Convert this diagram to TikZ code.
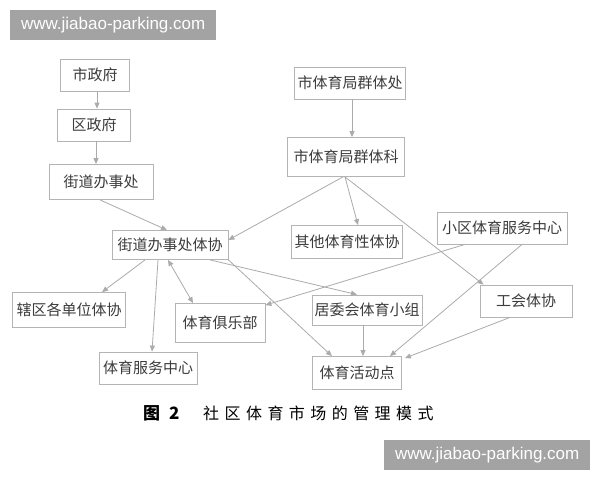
\documentclass[tikz,border=0pt]{standalone}
\usepackage{fontspec}
\newfontfamily\cjk{Noto Sans CJK SC}
\newfontfamily\wmfont{Liberation Sans}
\usetikzlibrary{arrows.meta}
\definecolor{boxline}{HTML}{B4B4B4}
\definecolor{conn}{HTML}{ABABAB}
\definecolor{txt}{HTML}{3C3C3C}
\definecolor{wm}{HTML}{A3A3A3}
\tikzset{
  orgbox/.style={draw=boxline, line width=0.8pt, fill=white, text=txt, inner sep=0pt,
    font=\cjk\fontsize{15}{17}\selectfont, minimum width=#1},
  conline/.style={draw=conn, line width=0.8pt, -{Triangle[length=6pt,width=5pt]}},
  biline/.style={draw=conn, line width=0.8pt, {Triangle[length=6pt,width=5pt]}-{Triangle[length=6pt,width=5pt]}},
  wmbox/.style={fill=wm, text=white, font=\wmfont\fontsize{17}{19}\selectfont,
    minimum width=206pt, minimum height=30pt, inner sep=0pt},
}
\begin{document}
\begin{tikzpicture}[x=1pt,y=-1pt]
\useasboundingbox (0,0) rectangle (600,480);
\fill[white] (0,0) rectangle (600,480);
% boxes
\node[orgbox=69pt, minimum height=32pt] (a1) at (95,75) {市政府};
\node[orgbox=73pt, minimum height=32pt] (a2) at (94,125) {区政府};
\node[orgbox=104pt, minimum height=35pt] (a3) at (101,182) {街道办事处};
\node[orgbox=116pt, minimum height=29pt] (a4) at (170,245) {街道办事处体协};
\node[orgbox=111pt, minimum height=32pt] (b1) at (350,83) {市体育局群体处};
\node[orgbox=117pt, minimum height=39pt] (b2) at (346,157) {市体育局群体科};
\node[orgbox=111pt, minimum height=33pt] (b3) at (347,242) {其他体育性体协};
\node[orgbox=130pt, minimum height=32pt] (c1) at (502,228) {小区体育服务中心};
\node[orgbox=113pt, minimum height=35pt] (d1) at (69,310) {辖区各单位体协};
\node[orgbox=90pt, minimum height=39pt] (d2) at (220,323) {体育俱乐部};
\node[orgbox=98pt, minimum height=32pt] (d3) at (148,368) {体育服务中心};
\node[orgbox=110pt, minimum height=30pt] (d4) at (367,310) {居委会体育小组};
\node[orgbox=92pt, minimum height=32pt] (d5) at (526,301) {工会体协};
\node[orgbox=89pt, minimum height=33pt] (e1) at (357,373) {体育活动点};
% connectors
\draw[conline] ([xshift=2pt]a1.south) -- ([xshift=3pt]a2.north);
\draw[conline] ([xshift=2pt]a2.south) -- ([xshift=-5pt]a3.north);
\draw[conline] ([xshift=-1pt]a3.south) -- ([xshift=-3pt]a4.north);
\draw[conline] ([xshift=2pt]b1.south) -- ([xshift=6pt]b2.north);
\draw[conline] ([xshift=-3pt]b2.south) -- ([yshift=5pt]a4.east);
\draw[conline] ([xshift=-1pt]b2.south) -- ([xshift=11pt]b3.north);
\draw[conline] ([xshift=-1pt]b2.south) -- ([xshift=4pt]d5.north west);
\draw[conline] ([xshift=-37pt]c1.south) -- ([yshift=-2pt]d2.north east);
\draw[conline] ([xshift=20pt]c1.south) -- ([xshift=33pt]e1.north);
\draw[conline] ([xshift=-16pt]d5.south) -- ([xshift=3pt,yshift=-2pt]e1.north east);
\draw[conline] ([xshift=-4pt]d4.south) -- ([xshift=6pt]e1.north);
\draw[conline] (a4.south east) -- ([xshift=-25pt]e1.north);
\draw[conline] ([xshift=40pt]a4.south) -- ([xshift=-10pt]d4.north);
\draw[conline] ([xshift=-25pt]a4.south) -- ([xshift=33pt]d1.north);
\draw[conline] ([xshift=-12pt]a4.south) -- ([xshift=4pt]d3.north);
\draw[biline] ([xshift=-2pt]a4.south) -- ([xshift=-27pt]d2.north);
% caption
\node[anchor=base west, inner sep=0pt, text=black, font=\cjk\bfseries\fontsize{17}{19}\selectfont] (cap1) at (143,419) {图\hspace{9pt}2};
\node[anchor=base west, inner sep=0pt, text=black, font=\cjk\fontsize{16}{18}\selectfont] (cap2) at (203,419) {\addfontfeatures{LetterSpace=34}社区体育市场的管理模式};
% watermarks
\node[wmbox, anchor=north west] (wm1) at (10,10) {www.jiabao-parking.com};
\node[wmbox, anchor=north west] (wm2) at (384,440) {www.jiabao-parking.com};
\end{tikzpicture}
\end{document}
